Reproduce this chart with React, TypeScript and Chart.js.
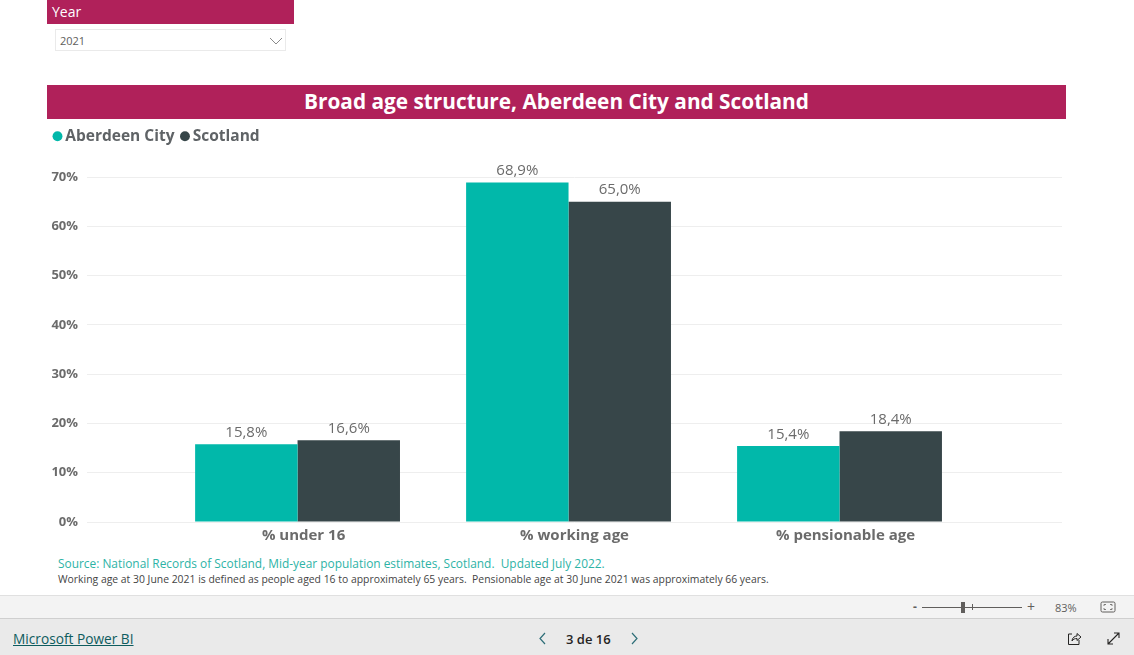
import React, { useEffect, useRef } from "react";
import { Chart, registerables } from "chart.js";

Chart.register(...registerables);

const categories = ["% under 16", "% working age", "% pensionable age"];
const aberdeenCity = [15.8, 68.9, 15.4];
const scotland = [16.6, 65.0, 18.4];
const seriesNames = ["Aberdeen City", "Scotland"];
const seriesColors = ["#01B8AA", "#374649"];
const yTicks = [0, 10, 20, 30, 40, 50, 60, 70];

const FONT = '"Open Sans", "Noto Sans", sans-serif';
const BAND = "#B0215A";

const toPoints = (vals: number[]) => vals.map((y, x) => ({ x, y }));
const fmt = (v: number) => v.toFixed(1).replace(".", ",") + "%";

const barLabels = {
  id: "barLabels",
  afterDatasetsDraw(chart: any) {
    const { ctx } = chart;
    ctx.save();
    ctx.font = `15px ${FONT}`;
    ctx.fillStyle = "#6B6B6B";
    ctx.textAlign = "center";
    ctx.textBaseline = "bottom";
    chart.data.datasets.forEach((ds: any, i: number) => {
      chart.getDatasetMeta(i).data.forEach((bar: any, j: number) => {
        ctx.fillText(fmt(ds.data[j].y), bar.x, bar.y - 4);
      });
    });
    ctx.restore();
  },
};

const legendGap = {
  id: "legendGap",
  beforeInit(chart: any) {
    const fit = chart.legend.fit;
    chart.legend.fit = function () {
      fit.call(this);
      this.height += 23;
    };
  },
};

const abs = (left: number, top: number, extra: React.CSSProperties = {}): React.CSSProperties => ({
  position: "absolute",
  left,
  top,
  fontFamily: FONT,
  whiteSpace: "nowrap",
  ...extra,
});

export default function App() {
  const ref = useRef<HTMLCanvasElement>(null);
  useEffect(() => {
    document.body.style.margin = "0";
    document.body.style.overflow = "hidden";
    const chart = new Chart(ref.current!, {
      type: "bar",
      data: {
        datasets: [
          { label: seriesNames[0], data: toPoints(aberdeenCity), backgroundColor: seriesColors[0] },
          { label: seriesNames[1], data: toPoints(scotland), backgroundColor: seriesColors[1] },
        ],
      } as any,
      options: {
        animation: false,
        responsive: false,
        devicePixelRatio: 1,
        datasets: { bar: { categoryPercentage: 0.756, barPercentage: 1 } },
        layout: { padding: { left: 0, right: 4, top: 0, bottom: 0 } },
        plugins: {
          tooltip: { enabled: false },
          title: { display: false },
          legend: {
            display: true,
            position: "top",
            align: "start",
            labels: {
              usePointStyle: true,
              pointStyle: "circle",
              boxWidth: 0.01,
              boxHeight: 7,
              padding: 10.5,
              color: "#5F6366",
              font: { family: FONT, size: 15.5, weight: "bold" },
            },
          },
        },
        scales: {
          x: {
            type: "linear",
            min: -0.777,
            max: 2.821,
            offset: false,
            grid: { display: false, drawTicks: false },
            border: { display: false },
            ticks: {
              stepSize: 1,
              includeBounds: false,
              autoSkip: false,
              maxRotation: 0,
              padding: 5,
              labelOffset: 6,
              color: "#6B6B6B",
              font: { family: FONT, size: 15, weight: "bold" },
              callback: (v: any) => categories[v] ?? "",
            },
          },
          y: {
            min: 0,
            max: 70,
            afterFit: (s: any) => {
              s.width = 40;
            },
            afterBuildTicks: (s: any) => {
              s.ticks = yTicks.map((value) => ({ value }));
            },
            grid: { color: "#EEEEEE", drawTicks: false },
            border: { display: false },
            ticks: {
              padding: 9,
              color: "#6B6B6B",
              font: { family: FONT, size: 13, weight: "bold" },
              callback: (v: any) => v + "%",
            },
          },
        },
      } as any,
      plugins: [barLabels, legendGap],
    });
    return () => chart.destroy();
  }, []);

  return (
    <div style={{ position: "relative", width: 1134, height: 655, overflow: "hidden", background: "#fff" }}>
      <div style={abs(47, 0, { width: 247, height: 24, background: BAND, color: "#fff", fontSize: 14, lineHeight: "24px", paddingLeft: 5, boxSizing: "border-box" })}>Year</div>
      <div style={abs(55, 29, { width: 231, height: 22, border: "1px solid #EAEAEA", boxSizing: "border-box", fontSize: 11, lineHeight: "22px", paddingLeft: 4, color: "#605E5C" })}>2021</div>
      <svg style={abs(269, 37)} width="14" height="8"><path d="M1 1 L7 7 L13 1" fill="none" stroke="#8A8A8A" strokeWidth="1" /></svg>

      <div style={abs(47, 85, { width: 1019, height: 34, background: BAND, color: "#fff", fontSize: 20.8, fontWeight: 700, lineHeight: "32px", textAlign: "center" })}>Broad age structure, Aberdeen City and Scotland</div>

      <canvas ref={ref} width={1019} height={432} style={abs(47, 118, { display: "block" })} />

      <div style={abs(58, 555, { fontSize: 11.9, color: "#2DB3A6" })}>Source: National Records of Scotland, Mid-year population estimates, Scotland.&nbsp; Updated July 2022.</div>
      <div style={abs(58, 572, { fontSize: 10.4, color: "#444" })}>Working age at 30 June 2021 is defined as people aged 16 to approximately 65 years.&nbsp; Pensionable age at 30 June 2021 was approximately 66 years.</div>

      <div style={abs(0, 595, { width: 1134, height: 24, background: "#F3F3F3", borderTop: "1px solid #E0E0E0", borderBottom: "1px solid #CFCFCF", boxSizing: "border-box" })} />
      <div style={abs(0, 619, { width: 1134, height: 36, background: "#EAEAEA" })} />

      <div style={abs(913, 598, { fontSize: 12, fontWeight: 700, color: "#605E5C" })}>-</div>
      <div style={abs(922, 607, { width: 100, height: 1, background: "#605E5C" })} />
      <div style={abs(961, 602, { width: 4, height: 11, background: "#605E5C" })} />
      <div style={abs(972, 604, { width: 1, height: 6, background: "#605E5C" })} />
      <div style={abs(1027, 597, { fontSize: 14, color: "#605E5C" })}>+</div>
      <div style={abs(1055, 600, { fontSize: 11, color: "#605E5C" })}>83%</div>
      <svg style={abs(1100, 601)} width="16" height="13"><rect x="1" y="1" width="14" height="10" rx="1.5" fill="none" stroke="#605E5C" /><path d="M4 5 V3.5 H6 M10 3.5 H12 V5 M4 7 V8.5 H6 M10 8.5 H12 V7" fill="none" stroke="#605E5C" strokeWidth="0.8" /></svg>

      <div style={abs(13, 629, { fontSize: 13.7, color: "#0E5C5E", textDecoration: "underline" })}>Microsoft Power BI</div>
      <svg style={abs(538, 632)} width="9" height="13"><path d="M7 1 L2 6.5 L7 12" fill="none" stroke="#2E6E78" strokeWidth="1.2" /></svg>
      <div style={abs(566, 630, { fontSize: 13, fontWeight: 600, color: "#252423" })}>3 de 16</div>
      <svg style={abs(630, 632)} width="9" height="13"><path d="M2 1 L7 6.5 L2 12" fill="none" stroke="#2E6E78" strokeWidth="1.2" /></svg>
      <svg style={abs(1067, 631)} width="15" height="15"><path d="M5 3 H1.5 V13.5 H12 V9 M5 10 C5 6.5 8 5 10 5 V2.5 L14 6 L10 9.5 V7.5 C8 7.5 6 8 5 10 Z" fill="none" stroke="#252423" strokeWidth="1" /></svg>
      <svg style={abs(1106, 631)} width="15" height="15"><path d="M2 13 L13 2 M8 2 H13 V7 M2 8 V13 H7" fill="none" stroke="#252423" strokeWidth="1.1" /></svg>
    </div>
  );
}
